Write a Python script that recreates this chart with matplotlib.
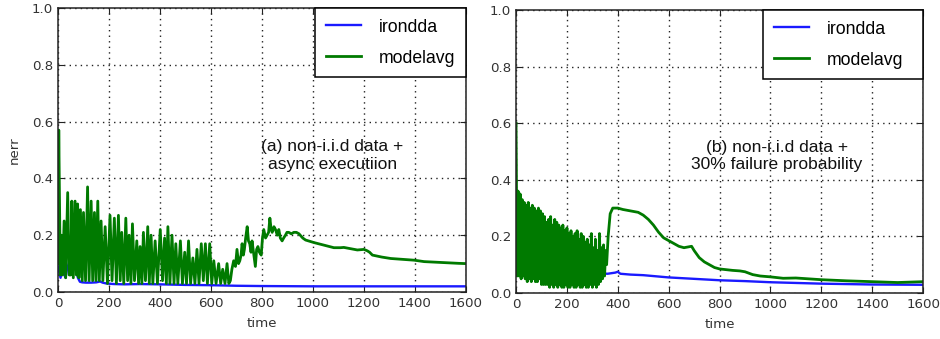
import numpy as np
import matplotlib
matplotlib.use("Agg")
import matplotlib.pyplot as plt

# ---------------- data ----------------
# (a) left panel
t_a_iron = [0, 5, 10, 15, 20, 25, 30, 35, 42, 48, 54, 62, 70, 78, 86, 95, 110,
            130, 150, 165, 175, 190, 220, 260, 320, 400, 500, 600, 700, 800,
            1000, 1200, 1400, 1600]
v_a_iron = [0.09, 0.07, 0.05, 0.07, 0.08, 0.06, 0.05, 0.08, 0.10, 0.13, 0.135,
            0.10, 0.08, 0.05, 0.036, 0.034, 0.033, 0.033, 0.034, 0.037, 0.033,
            0.030, 0.028, 0.027, 0.028, 0.027, 0.025, 0.024, 0.022, 0.021,
            0.020, 0.020, 0.020, 0.020]

t_a_mavg = [
    0, 3, 6, 9, 13, 18, 24, 30, 38, 44,
    50, 54, 60, 67, 72, 77, 82, 88, 95, 100,
    108, 116, 122, 130, 136, 143, 149, 156, 162, 169,
    176, 185, 194, 204, 212, 221, 229, 237, 244, 250,
    258, 266, 273, 279, 286, 292, 300, 309, 316, 322,
    329, 335, 343, 352, 358, 365, 372, 381, 390, 401,
    410, 418, 425, 431, 439, 447, 455, 462, 470, 480,
    488, 497, 504, 512, 520, 529, 537, 545, 553, 562,
    570, 578, 586, 595, 603, 611, 620, 630, 638, 646,
    655, 663, 670, 676, 682, 689, 696, 702, 708, 713,
    718, 722, 727, 731, 736, 742, 747, 752, 757, 761,
    768, 774, 779, 784, 790, 797, 802, 807, 814, 820,
    826, 831, 836, 840, 847, 853, 860, 866, 872, 879,
    885, 892, 898, 905, 915, 925, 935, 945, 960, 971,
    990, 1004, 1030, 1056, 1082, 1108, 1121, 1150, 1174, 1200,
    1213, 1222, 1233, 1270, 1305, 1350, 1397, 1436, 1480, 1528,
    1570, 1600]
v_a_mavg = [
    0.10, 0.57, 0.30, 0.06, 0.20, 0.06, 0.25, 0.05, 0.35, 0.06,
    0.06, 0.32, 0.05, 0.32, 0.06, 0.31, 0.05, 0.29, 0.04, 0.28,
    0.04, 0.37, 0.04, 0.32, 0.04, 0.28, 0.04, 0.32, 0.04, 0.25,
    0.04, 0.23, 0.03, 0.27, 0.04, 0.26, 0.03, 0.27, 0.04, 0.21,
    0.03, 0.26, 0.04, 0.20, 0.03, 0.24, 0.04, 0.18, 0.03, 0.16,
    0.03, 0.21, 0.04, 0.23, 0.03, 0.20, 0.03, 0.18, 0.03, 0.22,
    0.04, 0.19, 0.03, 0.23, 0.03, 0.20, 0.03, 0.17, 0.03, 0.18,
    0.03, 0.14, 0.03, 0.18, 0.03, 0.12, 0.03, 0.15, 0.03, 0.17,
    0.04, 0.17, 0.03, 0.17, 0.03, 0.11, 0.03, 0.10, 0.03, 0.08,
    0.03, 0.10, 0.03, 0.04, 0.08, 0.11, 0.09, 0.15, 0.10, 0.11,
    0.13, 0.17, 0.13, 0.15, 0.19, 0.23, 0.18, 0.17, 0.14, 0.18,
    0.13, 0.09, 0.15, 0.16, 0.14, 0.13, 0.19, 0.22, 0.19, 0.20,
    0.21, 0.26, 0.22, 0.21, 0.23, 0.22, 0.20, 0.22, 0.19, 0.18,
    0.19, 0.20, 0.21, 0.21, 0.205, 0.21, 0.21, 0.205, 0.19, 0.183,
    0.178, 0.174, 0.168, 0.162, 0.156, 0.156, 0.157, 0.152, 0.148, 0.150,
    0.145, 0.140, 0.130, 0.123, 0.118, 0.115, 0.112, 0.107, 0.105, 0.103,
    0.101, 0.100]

# (b) right panel
t_b_iron = [0, 3, 6, 50, 95, 110, 200, 300, 360, 390, 400, 410, 450, 500,
            600, 700, 800, 900, 1000, 1200, 1400, 1600]
v_b_iron = [0.30, 0.27, 0.10, 0.075, 0.068, 0.070, 0.070, 0.070, 0.068, 0.072,
            0.075, 0.068, 0.065, 0.063, 0.055, 0.050, 0.045, 0.042, 0.038,
            0.033, 0.030, 0.029]

t_b_mavg = [
    0, 4, 8, 12, 16, 20, 24, 28, 32, 36,
    40, 44, 48, 52, 56, 60, 64, 68, 72, 76,
    80, 84, 88, 92, 96, 100, 104, 108, 112, 116,
    120, 124, 128, 132, 136, 140, 144, 148, 152, 156,
    160, 164, 168, 172, 176, 180, 184, 188, 192, 196,
    200, 204, 208, 212, 216, 220, 224, 228, 232, 236,
    240, 244, 248, 252, 256, 260, 264, 268, 272, 276,
    280, 284, 288, 292, 296, 300, 304, 308, 312, 316,
    320, 324, 328, 332, 336, 340, 344, 348, 352, 356,
    362, 370, 380, 400, 420, 450, 480, 500, 520, 540,
    560, 580, 600, 620, 640, 660, 690, 700, 720, 740,
    760, 780, 800, 850, 880, 900, 930, 960, 1000, 1050,
    1100, 1150, 1200, 1300, 1400, 1500, 1600]
v_b_mavg = [
    0.60, 0.06, 0.36, 0.06, 0.35, 0.05, 0.33, 0.06, 0.32, 0.05,
    0.31, 0.04, 0.32, 0.05, 0.30, 0.04, 0.31, 0.05, 0.30, 0.04,
    0.29, 0.04, 0.30, 0.05, 0.29, 0.03, 0.28, 0.03, 0.27, 0.03,
    0.25, 0.03, 0.26, 0.02, 0.27, 0.03, 0.24, 0.02, 0.26, 0.03,
    0.25, 0.02, 0.24, 0.03, 0.23, 0.02, 0.24, 0.02, 0.22, 0.03,
    0.23, 0.02, 0.21, 0.02, 0.22, 0.03, 0.20, 0.02, 0.21, 0.02,
    0.22, 0.03, 0.19, 0.02, 0.21, 0.02, 0.20, 0.03, 0.18, 0.02,
    0.19, 0.02, 0.17, 0.03, 0.21, 0.02, 0.16, 0.03, 0.19, 0.02,
    0.15, 0.03, 0.21, 0.04, 0.16, 0.05, 0.17, 0.06, 0.15, 0.10,
    0.20, 0.28, 0.30, 0.30, 0.295, 0.29, 0.285, 0.275, 0.26, 0.24,
    0.215, 0.195, 0.185, 0.175, 0.165, 0.160, 0.165, 0.150, 0.125, 0.110,
    0.100, 0.090, 0.085, 0.080, 0.078, 0.075, 0.065, 0.060, 0.057, 0.052,
    0.053, 0.050, 0.047, 0.043, 0.040, 0.037, 0.040]

labels = ["irondda", "modelavg"]
notes = ["(a) non-i.i.d data +\nasync executiion",
         "(b) non-i.i.d data +\n30% failure probability"]
xticks = [0, 200, 400, 600, 800, 1000, 1200, 1400, 1600]
yticks = [0.0, 0.2, 0.4, 0.6, 0.8, 1.0]

# ---------------- figure ----------------
plt.rcParams['font.family'] = ['DejaVu Sans']
fig = plt.figure(figsize=(9.4, 3.39), dpi=100)
ax1 = fig.add_axes([0.0617, 0.1386, 0.434, 0.838])
ax2 = fig.add_axes([0.549, 0.1357, 0.433, 0.835])

panels = [
    (ax1, t_a_iron, v_a_iron, t_a_mavg, v_a_mavg, notes[0], (1077, 0.48)),
    (ax2, t_b_iron, v_b_iron, t_b_mavg, v_b_mavg, notes[1], (1026, 0.484)),
]

for ax, ti, vi, tm, vm, note, pos in panels:
    ax.plot(ti, vi, color='#1a1aff', lw=1.7, label=labels[0])
    ax.plot(tm, vm, color='#007a00', lw=2.0, label=labels[1])
    ax.set_xlim(0, 1600)
    ax.set_ylim(0, 1.0)
    ax.set_xticks(xticks)
    ax.set_yticks(yticks)
    ax.grid(True, color='#222222', linestyle=(0, (1, 3)), linewidth=1.0)
    ax.tick_params(direction='in', top=True, right=True, labelsize=9.6,
                   length=4, colors='#222222', labelcolor='#333333')
    for s in ax.spines.values():
        s.set_linewidth(1.1)
        s.set_color('#222222')
    ax.set_xlabel('time', fontsize=9.6, color='#333333', labelpad=5)
    ax.text(pos[0], pos[1], note, ha='center', va='center', fontsize=12.5,
            family=['Liberation Sans', 'DejaVu Sans'], linespacing=1.2,
            color='#111111')

ax1.set_ylabel('nerr', fontsize=9.6, color='#333333', labelpad=8)

leg_kw = dict(fancybox=False, framealpha=1, edgecolor='black',
              prop={'family': 'Liberation Sans', 'size': 12.7},
              borderaxespad=0, handlelength=2.0, handletextpad=1.0,
              labelspacing=0.8, borderpad=0.6)
l1 = ax1.legend(loc='upper right', **leg_kw)
l2 = ax2.legend(loc='upper right', mode='expand',
                bbox_to_anchor=(0.607, 0.756, 0.393, 0.244), **leg_kw)
for lg in (l1, l2):
    lg.get_frame().set_linewidth(1.1)

fig.savefig('out.png', dpi=100)
